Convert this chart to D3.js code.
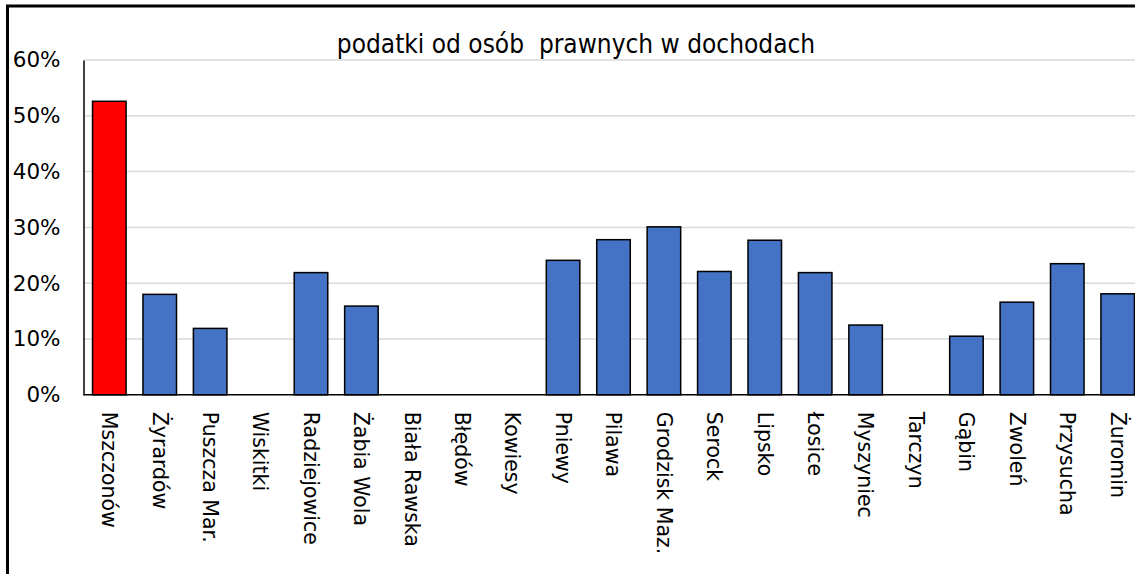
<!DOCTYPE html>
<html>
<head>
<meta charset="utf-8">
<script src="https://cdn.jsdelivr.net/npm/d3@7"></script>
<style>
  html, body { margin: 0; padding: 0; background: #fff; overflow: hidden; }
  text { font-family: "DejaVu Sans", sans-serif; fill: #000; }
  .title { font-family: "DejaVu Sans Condensed", "DejaVu Sans", sans-serif; font-stretch: condensed; white-space: pre; }
</style>
</head>
<body>
<svg id="chart" width="1135" height="574"></svg>
<script>
const categories = ["Mszczonów","Żyrardów","Puszcza Mar.","Wiskitki","Radziejowice","Żabia Wola","Biała Rawska","Błędów","Kowiesy","Pniewy","Pilawa","Grodzisk Maz.","Serock","Lipsko","Łosice","Myszyniec","Tarczyn","Gąbin","Zwoleń","Przysucha","Żuromin"];
const values = [0.526,0.180,0.119,0,0.219,0.159,0,0,0,0.241,0.278,0.301,0.221,0.277,0.219,0.125,0,0.105,0.166,0.235,0.181];
const highlight = ["Mszczonów"];
const yTicks = [0,0.1,0.2,0.3,0.4,0.5,0.6];
const title = "podatki od osób  prawnych w dochodach";

const svg = d3.select("#chart");

// outer chart border (extends past the window on right/bottom)
svg.append("rect").attr("x", 7.5).attr("y", 6).attr("width", 1200).attr("height", 700)
  .attr("fill", "none").attr("stroke", "#000").attr("stroke-width", 3);

const x = d3.scaleBand().domain(categories).range([84.1, 1142.9]).paddingInner(0.335).paddingOuter(0.1675);
const y = d3.scaleLinear().domain([0, 0.6]).range([394.8, 60]);

// gridlines
svg.append("g").selectAll("line").data(yTicks.filter(d => d > 0)).join("line")
  .attr("x1", 84).attr("x2", 1200).attr("y1", d => y(d)).attr("y2", d => y(d))
  .attr("stroke", "#d9d9d9").attr("stroke-width", 1.5);

// y axis
const yAxis = d3.axisLeft(y).tickValues(yTicks).tickFormat(d3.format(".0%")).tickSize(0).tickPadding(23);
const gy = svg.append("g").attr("transform", "translate(83.5,0)").call(yAxis);
gy.select(".domain").attr("stroke", "#000").attr("stroke-width", 1.5);
gy.selectAll("text").style("font-size", "21.5px").style("font-family", '"DejaVu Sans", sans-serif').attr("fill", "#000");

// bars
svg.append("g").selectAll("rect").data(categories).join("rect")
  .attr("x", d => x(d)).attr("width", x.bandwidth())
  .attr("y", (d, i) => y(values[i])).attr("height", (d, i) => y(0) - y(values[i]))
  .attr("fill", d => highlight.includes(d) ? "#ff0000" : "#4472c4")
  .attr("stroke", "#000").attr("stroke-width", 1.5)
  .style("display", (d, i) => values[i] > 0 ? null : "none");

// x axis
const xAxis = d3.axisBottom(x).tickSize(0).tickPadding(0);
const gx = svg.append("g").attr("transform", `translate(0,${y(0)})`).call(xAxis);
gx.select(".domain").attr("d", `M83.5,0H1200`).attr("stroke", "#000").attr("stroke-width", 1.5);
gx.selectAll("text")
  .style("font-size", "20.5px").style("font-family", '"DejaVu Sans", sans-serif')
  .attr("text-anchor", "start")
  .attr("transform", "translate(0,17) rotate(90)")
  .attr("x", 0).attr("y", 0).attr("dy", "0.35em");

// title
svg.append("text").attr("class", "title").attr("x", 576).attr("y", 53).attr("text-anchor", "middle")
  .attr("xml:space", "preserve")
  .style("font-size", "26px").text(title);
</script>
</body>
</html>
